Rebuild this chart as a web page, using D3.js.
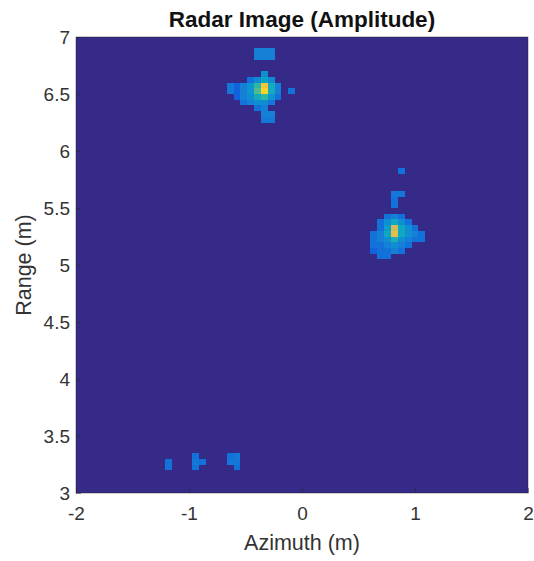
<!DOCTYPE html>
<html>
<head>
<meta charset="utf-8">
<script src="https://cdn.jsdelivr.net/npm/d3@7"></script>
<style>
  body { margin: 0; background: #fff; }
  text { font-family: "Liberation Sans", Arial, Helvetica, sans-serif; }
</style>
</head>
<body>
<div id="chart"></div>
<script>
// axis ranges and ticks
const azimuthDomain = [-2, 2];
const rangeDomain = [3, 7];
const xTicks = [-2, -1, 0, 1, 2];
const yTicks = [3, 3.5, 4, 4.5, 5, 5.5, 6, 6.5, 7];

// image grid (bins across each axis)
const azimuthBins = 66;
const rangeBins = 80;

// parula colormap stops
const parula = ["#352a87", "#0f5cdd", "#1481d6", "#06a4ca", "#2eb7a4",
                "#87bf77", "#d1bb59", "#fec832", "#f9fb0e"];

// target near (-0.35, 6.55): [first azimuth bin, top range bin], rows go down in range
const target1Origin = [22, 77];
const target1 = [
  [0, 0, 0, 0, 0.25, 0.25, 0.25, 0, 0, 0],
  [0, 0, 0, 0, 0.25, 0.25, 0.25, 0, 0, 0],
  [0, 0, 0, 0, 0, 0, 0, 0, 0, 0],
  [0, 0, 0, 0, 0, 0, 0, 0, 0, 0],
  [0, 0, 0, 0, 0, 0.3, 0, 0, 0, 0],
  [0, 0, 0, 0.2, 0.28, 0.38, 0.28, 0, 0, 0],
  [0.22, 0.15, 0.25, 0.32, 0.5, 0.85, 0.42, 0.25, 0, 0],
  [0.22, 0.15, 0.25, 0.32, 0.55, 0.9, 0.42, 0.25, 0, 0.2],
  [0, 0.15, 0.25, 0.3, 0.42, 0.5, 0.32, 0.2, 0, 0],
  [0, 0, 0.2, 0.25, 0.3, 0.3, 0.22, 0, 0, 0],
  [0, 0, 0, 0, 0.2, 0.25, 0, 0, 0, 0],
  [0, 0, 0, 0, 0, 0.25, 0.25, 0, 0, 0],
  [0, 0, 0, 0, 0, 0.22, 0.22, 0, 0, 0]
];

// target near (0.8, 5.28)
const target2Origin = [43, 56];
const target2 = [
  [0, 0, 0, 0, 0.2, 0, 0, 0],
  [0, 0, 0, 0, 0, 0, 0, 0],
  [0, 0, 0, 0, 0, 0, 0, 0],
  [0, 0, 0, 0, 0, 0, 0, 0],
  [0, 0, 0, 0.22, 0.22, 0, 0, 0],
  [0, 0, 0, 0.2, 0, 0, 0, 0],
  [0, 0, 0, 0.2, 0, 0, 0, 0],
  [0, 0, 0, 0, 0, 0, 0, 0],
  [0, 0, 0.2, 0.25, 0.2, 0, 0, 0],
  [0, 0.2, 0.3, 0.4, 0.3, 0.2, 0, 0],
  [0, 0.2, 0.35, 0.75, 0.4, 0.3, 0.2, 0],
  [0.2, 0.25, 0.4, 0.8, 0.4, 0.3, 0.25, 0.2],
  [0.2, 0.25, 0.3, 0.45, 0.3, 0.25, 0.2, 0.2],
  [0.2, 0.2, 0.25, 0.3, 0.25, 0.2, 0, 0],
  [0.15, 0.2, 0.2, 0.25, 0.2, 0, 0, 0],
  [0, 0.2, 0.2, 0, 0, 0, 0, 0]
];

// weak returns near range 3.3
const target3Origin = [13, 6];
const target3 = [
  [0, 0, 0, 0, 0.2, 0, 0, 0, 0, 0.2, 0.22],
  [0.2, 0, 0, 0, 0.22, 0.2, 0, 0, 0, 0.22, 0.22],
  [0.2, 0, 0, 0, 0.2, 0, 0, 0, 0, 0, 0.2]
];

const width = 534, height = 561;
const margin = { left: 76, right: 6, top: 37, bottom: 68 };

const svg = d3.select("#chart")
  .append("svg")
  .attr("width", width)
  .attr("height", height);

const x = d3.scaleLinear()
  .domain(azimuthDomain)
  .range([margin.left, width - margin.right]);

const y = d3.scaleLinear()
  .domain(rangeDomain)
  .range([height - margin.bottom, margin.top]);

const color = d3.scaleLinear()
  .domain(parula.map((c, k) => k / (parula.length - 1)))
  .range(parula)
  .clamp(true);

const dAz = (azimuthDomain[1] - azimuthDomain[0]) / azimuthBins;
const dR = (rangeDomain[1] - rangeDomain[0]) / rangeBins;

// collect nonzero cells
const cells = [];
function addPatch(origin, rows) {
  rows.forEach((row, r) => row.forEach((v, c) => {
    if (v > 0) cells.push({ i: origin[0] + c, j: origin[1] - r, v: v });
  }));
}
addPatch(target1Origin, target1);
addPatch(target2Origin, target2);
addPatch(target3Origin, target3);

// background of the image (zero amplitude)
svg.append("rect")
  .attr("x", x(azimuthDomain[0]))
  .attr("y", y(rangeDomain[1]))
  .attr("width", x(azimuthDomain[1]) - x(azimuthDomain[0]))
  .attr("height", y(rangeDomain[0]) - y(rangeDomain[1]))
  .attr("fill", color(0));

svg.append("g")
  .selectAll("rect")
  .data(cells)
  .join("rect")
  .attr("x", d => x(azimuthDomain[0] + d.i * dAz))
  .attr("y", d => y(rangeDomain[0] + (d.j + 1) * dR))
  .attr("width", x(dAz) - x(0))
  .attr("height", y(rangeDomain[0]) - y(rangeDomain[0] + dR))
  .attr("fill", d => color(d.v))
  .attr("shape-rendering", "crispEdges");

// axes
const xAxis = svg.append("g")
  .attr("transform", "translate(0," + (height - margin.bottom) + ")")
  .call(d3.axisBottom(x).tickValues(xTicks).tickFormat(d => String(d))
    .tickSizeInner(-5).tickSizeOuter(0).tickPadding(14));

const yAxis = svg.append("g")
  .attr("transform", "translate(" + margin.left + ",0)")
  .call(d3.axisLeft(y).tickValues(yTicks).tickFormat(d => String(d))
    .tickSizeInner(-5).tickSizeOuter(0).tickPadding(6));

[xAxis, yAxis].forEach(g => {
  g.select(".domain").remove();
  g.selectAll(".tick line").attr("stroke", "#262626").attr("stroke-opacity", 0.5);
  g.selectAll(".tick text")
    .attr("fill", "#333")
    .style("font-size", "19px")
    .style("font-family", "'Liberation Sans', Arial, sans-serif");
});

// box
svg.append("rect")
  .attr("x", x(azimuthDomain[0]))
  .attr("y", y(rangeDomain[1]))
  .attr("width", x(azimuthDomain[1]) - x(azimuthDomain[0]))
  .attr("height", y(rangeDomain[0]) - y(rangeDomain[1]))
  .attr("fill", "none")
  .attr("stroke", "#262626")
  .attr("stroke-opacity", 0.6)
  .attr("stroke-width", 0.75);

// labels
svg.append("text")
  .attr("x", (x(azimuthDomain[0]) + x(azimuthDomain[1])) / 2)
  .attr("y", 27)
  .attr("text-anchor", "middle")
  .attr("font-weight", "bold")
  .attr("font-size", "22.5px")
  .attr("fill", "#111")
  .text("Radar Image (Amplitude)");

svg.append("text")
  .attr("x", (x(azimuthDomain[0]) + x(azimuthDomain[1])) / 2)
  .attr("y", 550)
  .attr("text-anchor", "middle")
  .attr("font-size", "21.5px")
  .attr("fill", "#333")
  .text("Azimuth (m)");

svg.append("text")
  .attr("transform", "translate(31," + (y(5)) + ") rotate(-90)")
  .attr("text-anchor", "middle")
  .attr("font-size", "21.5px")
  .attr("fill", "#333")
  .text("Range (m)");
</script>
</body>
</html>
